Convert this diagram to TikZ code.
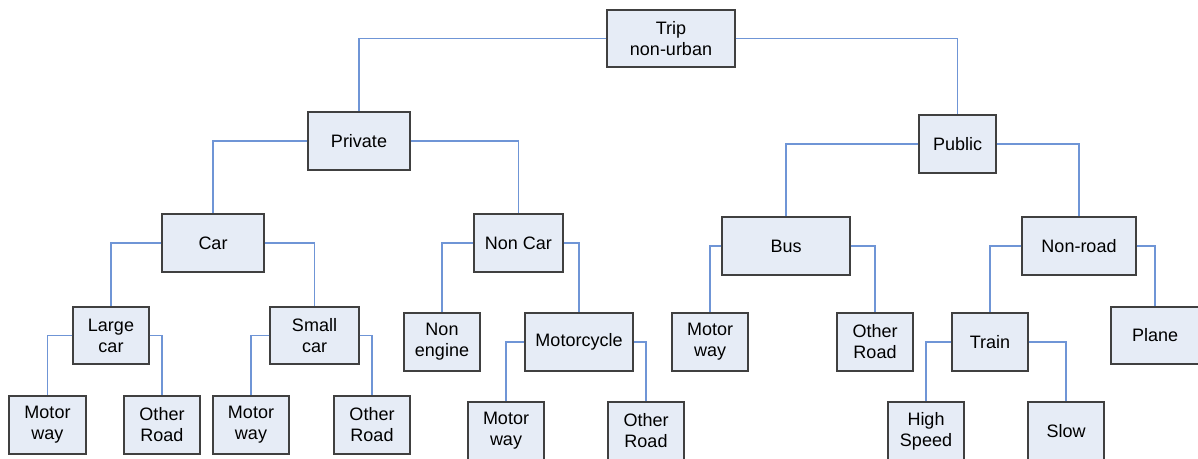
\documentclass[tikz,border=0pt]{standalone}
\usepackage{fontspec}
\setmainfont{Liberation Sans}
\definecolor{boxfill}{HTML}{E6ECF6}
\definecolor{boxline}{HTML}{404040}
\definecolor{linkblue}{HTML}{6F95D6}
\begin{document}
\begin{tikzpicture}[x=1pt,y=-1pt,
  box/.style={draw=boxline, fill=boxfill, line width=1.2pt, rectangle, align=center,
    inner sep=0pt, font=\fontsize{18}{21}\selectfont},
  link/.style={draw=linkblue, line width=1.1pt}]
\useasboundingbox (0,0) rectangle (1198,458);
\clip (0,0) rectangle (1198,458);
% level 0
\node[box, minimum width=128, minimum height=57] (trip) at (671,38.5) {Trip\\non-urban};
% level 1
\node[box, minimum width=102, minimum height=58] (private) at (359,141) {Private};
\node[box, minimum width=77, minimum height=58] (public) at (957.5,144) {Public};
% level 2
\node[box, minimum width=102, minimum height=58] (car) at (213,243) {Car};
\node[box, minimum width=89, minimum height=58] (noncar) at (518.5,243) {Non Car};
\node[box, minimum width=128, minimum height=58] (bus) at (786,246) {Bus};
\node[box, minimum width=114, minimum height=58] (nonroad) at (1079,246) {Non-road};
% level 3
\node[box, minimum width=76, minimum height=57] (largecar) at (111,335.5) {Large\\car};
\node[box, minimum width=89, minimum height=57] (smallcar) at (314.5,335.5) {Small\\car};
\node[box, minimum width=76, minimum height=58] (nonengine) at (442,342) {Non\\engine};
\node[box, minimum width=108, minimum height=58] (motorcycle) at (579,342) {Motorcycle};
\node[box, minimum width=76, minimum height=58] (mw4) at (710,342) {Motor\\way};
\node[box, minimum width=76, minimum height=58] (or4) at (875,342) {Other\\Road};
\node[box, minimum width=76, minimum height=58] (train) at (990,342) {Train};
\node[box, minimum width=88, minimum height=57] (plane) at (1155,335.5) {Plane};
% level 4
\node[box, minimum width=77, minimum height=58] (mw1) at (47.5,425) {Motor\\way};
\node[box, minimum width=76, minimum height=58] (or1) at (162,425) {Other\\Road};
\node[box, minimum width=76, minimum height=58] (mw2) at (251,425) {Motor\\way};
\node[box, minimum width=76, minimum height=58] (or2) at (372,425) {Other\\Road};
\node[box, minimum width=76, minimum height=58] (mw3) at (506,431) {Motor\\way};
\node[box, minimum width=76, minimum height=58] (or3) at (646,431) {Other\\Road};
\node[box, minimum width=76, minimum height=58] (hs) at (926,431) {High\\Speed};
\node[box, minimum width=76, minimum height=58] (slow) at (1066,431) {Slow};
% connectors
\draw[link] (trip.west) -| (private.north);
\draw[link] (trip.east) -| (public.north);
\draw[link] (private.west) -| (car.north);
\draw[link] (private.east) -| (noncar.north);
\draw[link] (public.west) -| (bus.north);
\draw[link] (public.east) -| (nonroad.north);
\draw[link] (car.west) -| (largecar.north);
\draw[link] (car.east) -| (smallcar.north);
\draw[link] (noncar.west) -| (nonengine.north);
\draw[link] (noncar.east) -| (motorcycle.north);
\draw[link] (bus.west) -| (mw4.north);
\draw[link] (bus.east) -| (or4.north);
\draw[link] (nonroad.west) -| (train.north);
\draw[link] (nonroad.east) -| (plane.north);
\draw[link] (largecar.west) -| (mw1.north);
\draw[link] (largecar.east) -| (or1.north);
\draw[link] (smallcar.west) -| (mw2.north);
\draw[link] (smallcar.east) -| (or2.north);
\draw[link] (motorcycle.west) -| (mw3.north);
\draw[link] (motorcycle.east) -| (or3.north);
\draw[link] (train.west) -| (hs.north);
\draw[link] (train.east) -| (slow.north);
\end{tikzpicture}
\end{document}
